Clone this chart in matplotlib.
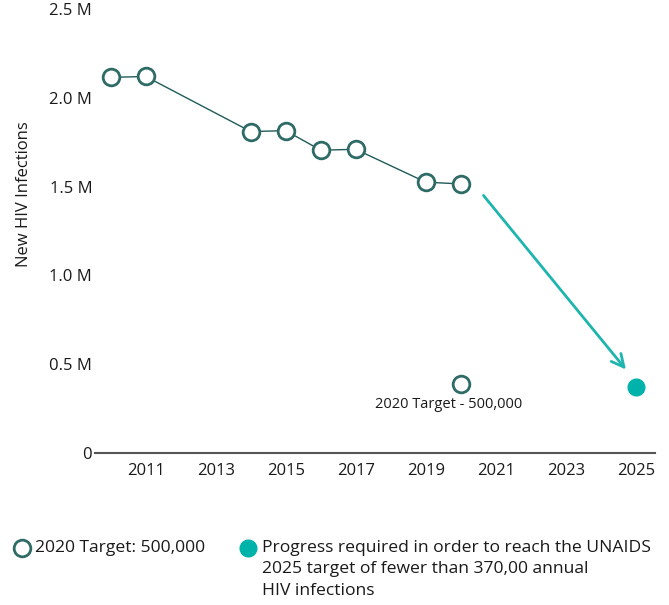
import matplotlib
matplotlib.use("Agg")
import matplotlib.pyplot as plt
from matplotlib.lines import Line2D

# ---- data ----
years = [2010, 2011, 2014, 2015, 2016, 2017, 2019, 2020]
infections_m = [2.115, 2.12, 1.81, 1.815, 1.705, 1.71, 1.525, 1.515]
target_2020_year = 2020
target_2020_value = 0.39
target_2025_year = 2025
target_2025_value = 0.37
xtick_years = [2011, 2013, 2015, 2017, 2019, 2021, 2023, 2025]
ytick_values = [0, 0.5, 1.0, 1.5, 2.0, 2.5]
ytick_labels = ["0", "0.5 M", "1.0 M", "1.5 M", "2.0 M", "2.5 M"]
arrow_start = (2020.65, 1.45)
arrow_end = (2024.72, 0.47)

dark = "#2e6b67"
line_c = "#1f5c59"
teal = "#00b3aa"
txt = "#1a1a1a"

plt.rcParams['font.family'] = ['Open Sans', 'DejaVu Sans']

fig = plt.figure(figsize=(6.69, 6.05), dpi=100)
ax = fig.add_axes([95/669, 1-453/605, (655-95)/669, (453-9)/605])

ax.plot(years, infections_m, color=line_c, lw=1.0, marker='o', ms=12,
        mfc='white', mec=dark, mew=2.0, zorder=3)
ax.plot([target_2020_year], [target_2020_value], 'o', ms=12, mfc='white',
        mec=dark, mew=2.0, zorder=3)
ax.plot([target_2025_year], [target_2025_value], 'o', ms=12, mfc=teal,
        mec=teal, zorder=3)

ax.annotate("", xy=arrow_end, xytext=arrow_start,
            arrowprops=dict(arrowstyle="->,head_length=0.9,head_width=0.45",
                            color="#1db5ad", lw=2.0, shrinkA=0, shrinkB=0))

ax.text(target_2020_year - 0.35, target_2020_value - 0.115, "2020 Target - 500,000",
        ha='center', va='center', fontsize=10.5, color=txt)

ax.set_xlim(2009.55, 2025.55)
ax.set_ylim(0, 2.5)
ax.set_xticks(xtick_years)
ax.set_xticklabels([str(y) for y in xtick_years])
ax.set_yticks(ytick_values)
ax.set_yticklabels(ytick_labels)
ax.tick_params(axis='both', length=0, labelsize=12, colors=txt)
ax.tick_params(axis='x', pad=7)
ax.tick_params(axis='y', pad=2)
for s in ['top', 'right', 'left']:
    ax.spines[s].set_visible(False)
ax.spines['bottom'].set_color('#555555')
ax.spines['bottom'].set_linewidth(1.5)
ax.set_ylabel("New HIV Infections", fontsize=12, color=txt)
ax.yaxis.set_label_coords(-0.112, 0.582)

# ---- legend ----
fig.add_artist(Line2D([22/669], [1-548/605], transform=fig.transFigure,
                      marker='o', ms=12, mfc='white', mec=dark, mew=2.0, ls=''))
fig.text(35/669, 1-548/605, "2020 Target: 500,000", fontsize=12.6, color=txt,
         ha='left', va='center')
fig.add_artist(Line2D([248/669], [1-548/605], transform=fig.transFigure,
                      marker='o', ms=12, mfc=teal, mec=teal, ls=''))
fig.text(262/669, 1-540/605,
         "Progress required in order to reach the UNAIDS\n2025 target of fewer than 370,00 annual\nHIV infections",
         fontsize=12.6, color=txt, ha='left', va='top', linespacing=1.45)

fig.savefig("out.png", dpi=100)
